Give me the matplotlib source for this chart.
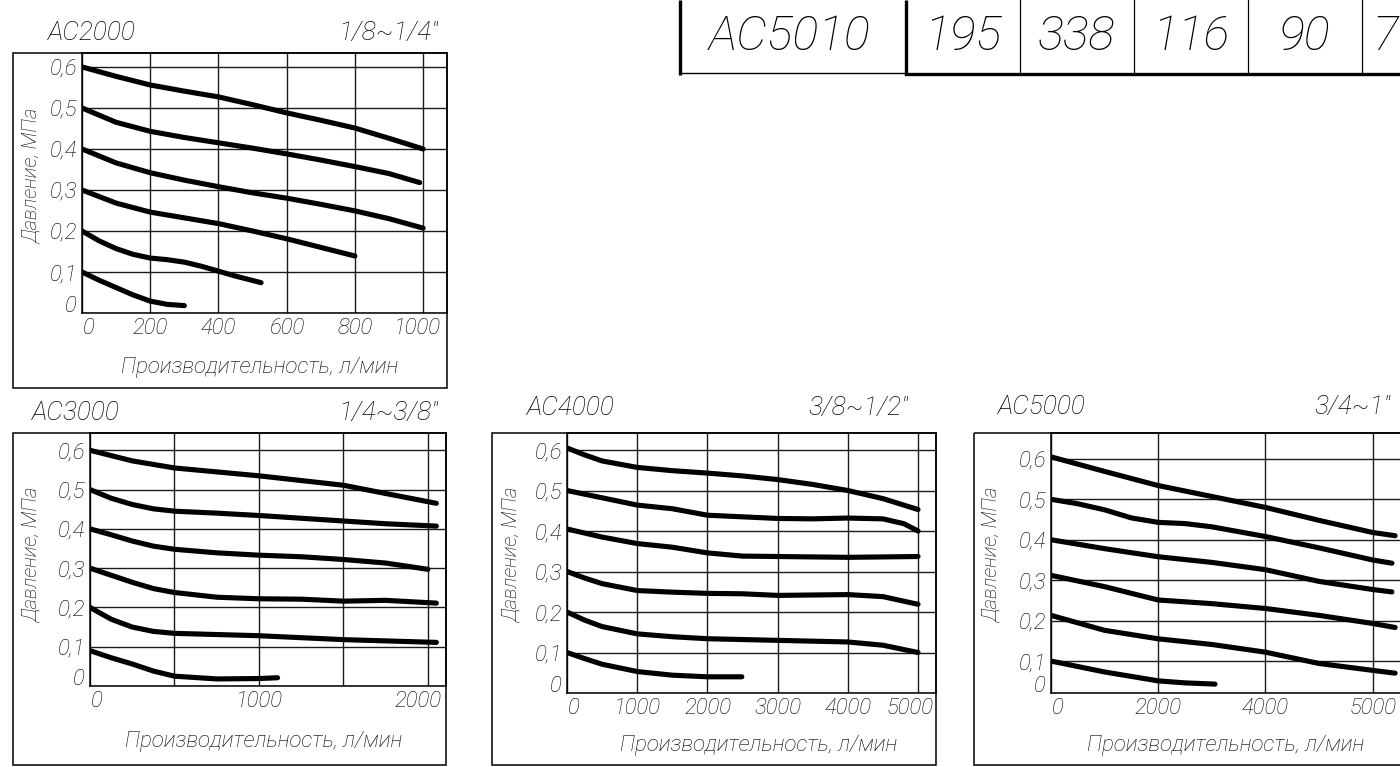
import matplotlib
matplotlib.use("Agg")
import matplotlib.pyplot as plt
from matplotlib.patches import Rectangle
from matplotlib.transforms import ScaledTranslation

plt.rcParams["font.family"] = ["Roboto", "Liberation Sans", "DejaVu Sans"]
plt.rcParams["font.style"] = "italic"
plt.rcParams["font.weight"] = "light"
plt.rcParams["axes.labelweight"] = "light"

W, H = 1400, 767

# ---- данные ----
table_cells = ["AC5010", "195", "338", "116", "90", "7"]

pressure_ticks = [0, 0.1, 0.2, 0.3, 0.4, 0.5, 0.6]
pressure_labels = ["0", "0,1", "0,2", "0,3", "0,4", "0,5", "0,6"]

ac2000_flow = [
    [0, 100, 200, 300, 400, 500, 600, 700, 800, 900, 1000],
    [0, 100, 200, 300, 400, 500, 600, 700, 800, 900, 990],
    [0, 100, 200, 300, 400, 500, 600, 700, 800, 900, 1000],
    [0, 100, 200, 300, 400, 500, 600, 700, 800],
    [0, 50, 100, 150, 200, 250, 300, 350, 400, 450, 525],
    [0, 50, 100, 150, 200, 250, 300],
]
ac2000_pressure = [
    [0.6, 0.577, 0.556, 0.541, 0.527, 0.508, 0.488, 0.47, 0.451, 0.426, 0.40],
    [0.5, 0.465, 0.443, 0.428, 0.415, 0.402, 0.388, 0.373, 0.357, 0.34, 0.318],
    [0.4, 0.366, 0.342, 0.324, 0.308, 0.293, 0.28, 0.265, 0.249, 0.23, 0.207],
    [0.3, 0.268, 0.246, 0.232, 0.218, 0.2, 0.181, 0.16, 0.139],
    [0.2, 0.176, 0.157, 0.143, 0.134, 0.13, 0.124, 0.114, 0.102, 0.09, 0.074],
    [0.1, 0.08, 0.062, 0.044, 0.029, 0.021, 0.018],
]
ac2000_xticks = [0, 200, 400, 600, 800, 1000]
ac2000_xlabels = ["0", "200", "400", "600", "800", "1000"]

ac3000_flow = [
    [0, 250, 500, 750, 1000, 1250, 1500, 1750, 2050],
    [0, 125, 250, 375, 500, 750, 1000, 1250, 1500, 1750, 2050],
    [0, 125, 250, 375, 500, 750, 1000, 1250, 1500, 1750, 2000],
    [0, 125, 250, 375, 500, 750, 1000, 1250, 1500, 1750, 2050],
    [0, 125, 250, 375, 500, 1000, 1500, 2050],
    [0, 125, 250, 375, 500, 750, 1000, 1110],
]
ac3000_pressure = [
    [0.6, 0.573, 0.555, 0.545, 0.535, 0.523, 0.511, 0.49, 0.465],
    [0.5, 0.478, 0.462, 0.451, 0.445, 0.44, 0.434, 0.427, 0.42, 0.413, 0.407],
    [0.4, 0.385, 0.369, 0.356, 0.348, 0.339, 0.333, 0.329, 0.322, 0.313, 0.297],
    [0.3, 0.282, 0.264, 0.248, 0.238, 0.226, 0.222, 0.221, 0.216, 0.218, 0.211],
    [0.2, 0.17, 0.15, 0.139, 0.134, 0.128, 0.118, 0.111],
    [0.09, 0.072, 0.056, 0.038, 0.025, 0.018, 0.019, 0.021],
]
ac3000_xticks = [0, 500, 1000, 1500, 2000]
ac3000_xlabels = ["0", "", "1000", "", "2000"]

ac4000_flow = [
    [0, 250, 500, 1000, 1500, 2000, 2500, 3000, 3500, 4000, 4500, 5000],
    [0, 500, 1000, 1500, 2000, 2500, 3000, 3500, 4000, 4500, 4800, 5000],
    [0, 500, 1000, 1500, 2000, 2500, 3000, 4000, 5000],
    [0, 250, 500, 1000, 1500, 2000, 2500, 3000, 3500, 4000, 4500, 5000],
    [0, 250, 500, 1000, 1500, 2000, 3000, 4000, 4500, 5000],
    [0, 250, 500, 1000, 1500, 2000, 2490],
]
ac4000_pressure = [
    [0.605, 0.588, 0.573, 0.557, 0.549, 0.543, 0.536, 0.527, 0.515, 0.5, 0.48, 0.453],
    [0.5, 0.482, 0.464, 0.455, 0.439, 0.435, 0.431, 0.43, 0.432, 0.43, 0.418, 0.4],
    [0.405, 0.385, 0.369, 0.36, 0.346, 0.338, 0.337, 0.335, 0.337],
    [0.3, 0.284, 0.27, 0.253, 0.249, 0.246, 0.245, 0.241, 0.242, 0.243, 0.238, 0.219],
    [0.2, 0.18, 0.164, 0.146, 0.139, 0.134, 0.13, 0.126, 0.118, 0.1],
    [0.1, 0.085, 0.071, 0.053, 0.044, 0.04, 0.04],
]
ac4000_xticks = [0, 1000, 2000, 3000, 4000, 5000]
ac4000_xlabels = ["0", "1000", "2000", "3000", "4000", "5000"]

ac5000_flow = [
    [0, 1000, 2000, 3000, 4000, 5000, 6000, 6420],
    [0, 500, 1000, 1500, 2000, 2500, 3000, 4000, 5000, 6000, 6360],
    [0, 1000, 2000, 3000, 4000, 5000, 6000, 6360],
    [0, 1000, 2000, 3000, 4000, 5000, 6000, 6420],
    [0, 1000, 2000, 3000, 4000, 5000, 6000, 6420],
    [0, 1000, 2000, 2500, 3060],
]
ac5000_pressure = [
    [0.605, 0.569, 0.534, 0.507, 0.48, 0.448, 0.418, 0.41],
    [0.5, 0.489, 0.474, 0.454, 0.443, 0.44, 0.432, 0.408, 0.38, 0.35, 0.342],
    [0.4, 0.378, 0.358, 0.344, 0.326, 0.297, 0.277, 0.271],
    [0.312, 0.284, 0.251, 0.242, 0.23, 0.213, 0.193, 0.183],
    [0.213, 0.176, 0.155, 0.141, 0.122, 0.094, 0.077, 0.07],
    [0.1, 0.073, 0.051, 0.046, 0.043],
]
# на оригинале последняя линия сетки подписана "5000"
ac5000_xticks = [0, 2000, 4000, 6000]
ac5000_xlabels = ["0", "2000", "4000", "5000"]


def px_axes(fig, left, top, right, bottom):
    # прямоугольник в пикселях картинки -> доли фигуры
    return fig.add_axes([left / W, 1 - bottom / H, (right - left) / W, (bottom - top) / H])


def shift_label(fig, tick, dx_px, dy_px):
    lab = tick.label1
    lab.set_transform(lab.get_transform()
                      + ScaledTranslation(dx_px / 100, dy_px / 100, fig.dpi_scale_trans))


def draw_panel(fig, ov, p):
    left, top, right, bottom = p["box"]
    ov.add_patch(Rectangle((p["frame_left"], top), right - p["frame_left"],
                           p["frame_bottom"] - top, fill=False, lw=1.1,
                           edgecolor="black", zorder=1))

    ax = px_axes(fig, left, top, right, bottom)
    ax.set_facecolor("none")
    for x, y in zip(p["flow"], p["pressure"]):
        ax.plot(x, y, color="black", lw=3.7, solid_capstyle="round",
                solid_joinstyle="round", zorder=3)

    ax.set_xlim(0, p["xmax"])
    ax.set_ylim(p["ymin"], p["ymax"])
    ax.set_xticks(p["xticks"])
    ax.set_xticklabels(p["xlabels"])
    ax.set_yticks([p["ymin"]] + pressure_ticks[1:])
    ax.set_yticklabels(pressure_labels)
    ax.grid(True, color="#1a1a1a", lw=1.0)
    ax.tick_params(length=0, labelsize=16, pad=3.5)
    for s in ax.spines.values():
        s.set_linewidth(1.1)

    # подпись "0" по Y чуть выше оси, "0" по X чуть правее, последняя - левее
    shift_label(fig, ax.yaxis.get_major_ticks()[0], 0, 9)
    shift_label(fig, ax.xaxis.get_major_ticks()[0], 7, 0)
    shift_label(fig, ax.xaxis.get_major_ticks()[-1], p["last_shift"], 0)

    ax.set_xlabel("Производительность, л/мин", fontsize=16, va="center",
                  fontweight="light")
    ax.xaxis.set_label_coords(*p["xlabel_pos"], transform=ov.transData)
    ax.set_ylabel("Давление, МПа", fontsize=14.5, va="center", fontweight="light")
    ax.yaxis.set_label_coords(*p["ylabel_pos"], transform=ov.transData)

    ov.text(p["title_pos"][0], p["title_pos"][1], p["title"], fontsize=19,
            ha="left", va="center")
    ov.text(p["size_pos"][0], p["size_pos"][1], p["size"], fontsize=19,
            ha="right", va="center")


def main():
    fig = plt.figure(figsize=(W / 100, H / 100), dpi=100)
    ov = fig.add_axes([0, 0, 1, 1])
    ov.set_xlim(0, W)
    ov.set_ylim(H, 0)
    ov.axis("off")

    # ------------------ фрагмент таблицы ------------------
    ov.plot([680, 680], [0, 75], color="black", lw=2.4, solid_capstyle="butt")
    ov.plot([680, 906], [73, 73], color="black", lw=1.0)
    ov.plot([906, 906], [0, 75], color="black", lw=2.4, solid_capstyle="butt")
    ov.plot([906, 1400], [74, 74], color="black", lw=2.4)
    for xe in [1020, 1134, 1248, 1362]:
        ov.plot([xe, xe], [0, 73], color="black", lw=0.9)
    cell_x = [790, 963, 1077, 1191, 1305, 1398]
    for i, (cx, txt) in enumerate(zip(cell_x, table_cells)):
        ov.text(cx, 37, txt, fontsize=35, ha="right" if i == 5 else "center",
                va="center")

    panels = [
        dict(box=(82, 53, 447, 313), frame_left=13, frame_bottom=388,
             flow=ac2000_flow, pressure=ac2000_pressure,
             xticks=ac2000_xticks, xlabels=ac2000_xlabels,
             xmax=1070, ymin=0, ymax=0.634, last_shift=-6,
             title="AC2000", title_pos=(48, 33), size="1/8~1/4\"", size_pos=(438, 33),
             xlabel_pos=(260, 368), ylabel_pos=(32, 175)),
        dict(box=(90, 433, 446, 686), frame_left=13, frame_bottom=765,
             flow=ac3000_flow, pressure=ac3000_pressure,
             xticks=ac3000_xticks, xlabels=ac3000_xlabels,
             xmax=2107, ymin=0, ymax=0.644, last_shift=-10,
             title="AC3000", title_pos=(32, 413), size="1/4~3/8\"", size_pos=(438, 413),
             xlabel_pos=(264, 742), ylabel_pos=(32, 554)),
        dict(box=(567, 433, 936, 693), frame_left=492, frame_bottom=765,
             flow=ac4000_flow, pressure=ac4000_pressure,
             xticks=ac4000_xticks, xlabels=ac4000_xlabels,
             xmax=5256, ymin=0, ymax=0.642, last_shift=-8,
             title="AC4000", title_pos=(527, 408), size="3/8~1/2\"", size_pos=(908, 408),
             xlabel_pos=(759, 745), ylabel_pos=(512, 554)),
        dict(box=(1051, 433, 1412, 693), frame_left=974, frame_bottom=765,
             flow=ac5000_flow, pressure=ac5000_pressure,
             xticks=ac5000_xticks, xlabels=ac5000_xlabels,
             xmax=6735, ymin=0.021, ymax=0.664, last_shift=0,
             title="AC5000", title_pos=(998, 407), size="3/4~1\"", size_pos=(1390, 407),
             xlabel_pos=(1226, 745), ylabel_pos=(992, 554)),
    ]
    for p in panels:
        draw_panel(fig, ov, p)

    fig.savefig("out.png", dpi=100, facecolor="white")
    plt.close(fig)


if __name__ == "__main__":
    main()
